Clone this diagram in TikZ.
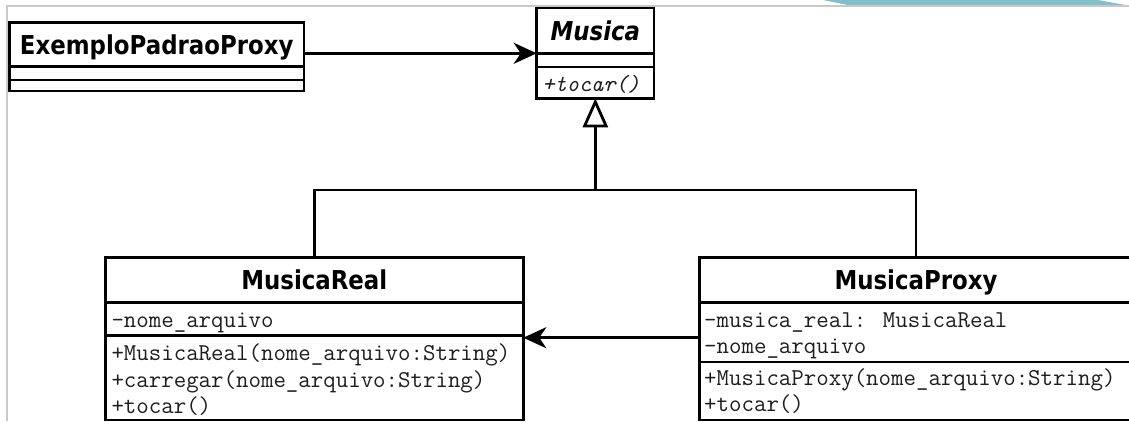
\documentclass[tikz,border=0pt]{standalone}
\usepackage{fontspec}
\usetikzlibrary{arrows.meta}
\newfontfamily\titlefont[FakeStretch=0.88]{DejaVu Sans}
\newfontfamily\codefont{Latin Modern Mono}
\definecolor{framegrey}{RGB}{200,200,200}
\definecolor{tabteal}{RGB}{128,192,200}
\definecolor{codeink}{RGB}{30,30,30}

\tikzset{
  compart/.style={draw, line width=2.8pt, outer sep=0pt, inner sep=0pt,
    anchor=north west},
  classtitle/.style={font=\titlefont\bfseries\fontsize{26}{30}\selectfont,
    text height=22pt, text depth=3pt},
  abstracttitle/.style={font=\titlefont\bfseries\itshape\fontsize{26}{30}\selectfont,
    text height=22pt, text depth=3pt},
  code/.style={font=\codefont\fontsize{24.2}{26}\selectfont, text=codeink,
    inner sep=0pt, anchor=base west},
  abstractcode/.style={code, font=\codefont\itshape\fontsize{23.2}{26}\selectfont},
  assoc/.style={line width=2.8pt, -{Stealth[length=23pt,width=21pt,inset=7pt]}},
  inherit/.style={line width=2.8pt},
  generalize/.style={inherit, -{Triangle[open,length=29pt,width=25pt]}}
}

\begin{document}
\begin{tikzpicture}[x=1pt,y=-1pt]
  \useasboundingbox (0,0) rectangle (1129,421);
  \fill[white] (0,0) rectangle (1129,421);
  \clip (0,0) rectangle (1129,421);

  % page frame and tab
  \fill[tabteal] (823,0) -- (1098,0) -- (1128,5.5) -- (850,5.5) -- cycle;
  \draw[framegrey, line width=2pt] (7,421) -- (7,6) -- (1129,6);

  % ExemploPadraoProxy
  \node[compart, classtitle, minimum width=294.5pt, minimum height=44.2pt]
    (exHead) at (9.5,22.5) {ExemploPadraoProxy};
  \node[compart, minimum width=294.5pt, minimum height=13.3pt]
    (exAttr) at (exHead.south west) {};
  \node[compart, minimum width=294.5pt, minimum height=11pt]
    (exMeth) at (exAttr.south west) {};

  % Musica (abstract)
  \node[compart, abstracttitle, minimum width=117.3pt, minimum height=45.3pt]
    (muHead) at (536.7,8) {Musica};
  \node[compart, minimum width=117.3pt, minimum height=13.7pt]
    (muAttr) at (muHead.south west) {};
  \node[compart, minimum width=117.3pt, minimum height=31.3pt]
    (muMeth) at (muAttr.south west) {};
  \node[abstractcode] (muM1) at ([shift={(5.5,24.5)}]muMeth.north west) {+tocar()};

  % MusicaReal
  \node[compart, classtitle, minimum width=418pt, minimum height=45pt]
    (mrHead) at (105.3,257.7) {MusicaReal};
  \node[compart, minimum width=418pt, minimum height=33pt]
    (mrAttr) at (mrHead.south west) {};
  \node[compart, minimum width=418pt, minimum height=84.3pt]
    (mrMeth) at (mrAttr.south west) {};
  \node[code] (mrA1) at ([shift={(6,24.5)}]mrAttr.north west) {-nome\_arquivo};
  \node[code] (mrM1) at ([shift={(6,25)}]mrMeth.north west)
    {+MusicaReal(nome\_arquivo:String)};
  \node[code] (mrM2) at ([yshift=-26.3pt]mrM1.base west)
    {+carregar(nome\_arquivo:String)};
  \node[code] (mrM3) at ([yshift=-26.3pt]mrM2.base west) {+tocar()};

  % MusicaProxy
  \node[compart, classtitle, minimum width=433pt, minimum height=45pt]
    (mpHead) at (699.5,257.7) {MusicaProxy};
  \node[compart, minimum width=433pt, minimum height=59.3pt]
    (mpAttr) at (mpHead.south west) {};
  \node[compart, minimum width=433pt, minimum height=58pt]
    (mpMeth) at (mpAttr.south west) {};
  \node[code] (mpA1) at ([shift={(4.5,24.5)}]mpAttr.north west)
    {-musica\_real: MusicaReal};
  \node[code] (mpA2) at ([yshift=-26.3pt]mpA1.base west) {-nome\_arquivo};
  \node[code] (mpM1) at ([shift={(4.5,23.5)}]mpMeth.north west)
    {+MusicaProxy(nome\_arquivo:String)};
  \node[code] (mpM2) at ([yshift=-26.3pt]mpM1.base west) {+tocar()};

  % associations
  \draw[assoc] (exHead.east |- muHead.south west) -- (muHead.south west);
  \coordinate (realIn) at ([yshift=-2pt]mrMeth.north east);
  \draw[assoc] (mpAttr.west |- realIn) -- (realIn);

  % generalization tree
  \coordinate (treeLevel) at (0,190);
  \coordinate (j) at (muMeth.south |- treeLevel);
  \draw[inherit] (mrHead.north) |- (j);
  \draw[inherit] (mpHead.north) |- (j);
  \draw[generalize] (j) -- (muMeth.south);
\end{tikzpicture}
\end{document}
